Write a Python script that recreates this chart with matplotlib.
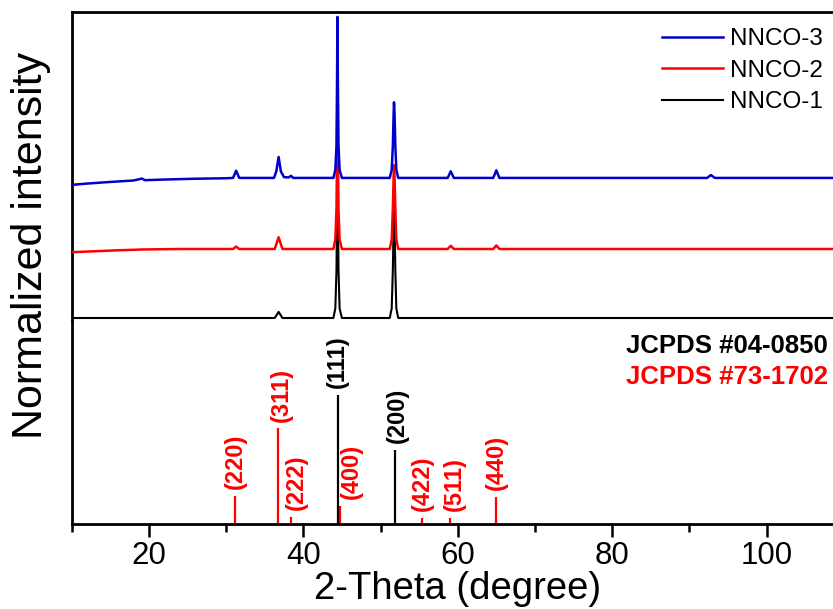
import matplotlib
matplotlib.use("Agg")
import matplotlib.pyplot as plt
from matplotlib.ticker import MultipleLocator

plt.rcParams['font.family'] = ['Liberation Sans', 'DejaVu Sans']

# XRD traces, normalised to the strongest peak
tt_nnco3 = [10, 12, 15, 18, 19.1, 19.5, 22, 26, 30, 30.9, 31.3, 31.7, 36.2, 36.5, 36.8, 37.1, 37.5,
            38.1, 38.4, 38.7, 43.9, 44.15, 44.3, 44.37, 44.42, 44.48, 44.56, 44.7, 45.0,
            51.2, 51.45, 51.6, 51.7, 51.75, 51.82, 51.92, 52.05, 52.3, 58.7, 59.1, 59.5,
            64.6, 65.0, 65.4, 92.3, 92.8, 93.3, 110]
int_nnco3 = [-0.043, -0.035, -0.025, -0.016, -0.004, -0.014, -0.01, -0.005, -0.002, 0.0, 0.045, 0.0, 0.0, 0.04,
             0.13, 0.04, 0.005, 0.003, 0.013, 0.0, 0.0, 0.05, 0.2, 0.6, 1.0, 0.6, 0.2, 0.05, 0.0,
             0.0, 0.05, 0.2, 0.4, 0.47, 0.4, 0.2, 0.05, 0.0, 0.0, 0.041, 0.0,
             0.0, 0.047, 0.0, 0.0, 0.018, 0.0, 0.0]

tt_nnco2 = [10, 13, 16, 19.2, 24, 30.9, 31.3, 31.7, 36.3, 36.8, 37.3, 43.9, 44.15, 44.3, 44.37,
            44.42, 44.48, 44.56, 44.7, 45.0, 51.2, 51.45, 51.6, 51.7, 51.75, 51.82, 51.92, 52.05,
            52.3, 58.7, 59.1, 59.5, 64.6, 65.0, 65.4, 110]
int_nnco2 = [-0.02, -0.014, -0.008, -0.003, 0.0, 0.0, 0.015, 0.0, 0.0, 0.073, 0.0, 0.0, 0.06, 0.25, 0.6,
             1.0, 0.6, 0.25, 0.06, 0.0, 0.0, 0.06, 0.25, 0.45, 0.52, 0.45, 0.25, 0.06,
             0.0, 0.0, 0.02, 0.0, 0.0, 0.022, 0.0, 0.0]

tt_nnco1 = [10, 36.3, 36.8, 37.3, 43.9, 44.15, 44.3, 44.37, 44.42, 44.48, 44.56, 44.7, 45.0,
            51.2, 51.45, 51.6, 51.7, 51.75, 51.82, 51.92, 52.05, 52.3, 110]
int_nnco1 = [0.0, 0.0, 0.038, 0.0, 0.0, 0.06, 0.3, 0.7, 1.0, 0.7, 0.3, 0.06, 0.0,
             0.0, 0.06, 0.3, 0.6, 0.7, 0.6, 0.3, 0.06, 0.0, 0.0]

offsets = [0.87, 0.4286, 0.0]   # NNCO-3, NNCO-2, NNCO-1

# reference sticks
ni_pos = [44.45, 51.85]
ni_int = [100, 57]
ni_hkl = ['(111)', '(200)']
spinel_pos = [31.2, 36.75, 38.4, 44.75, 55.4, 59.05, 64.95]
spinel_int = [22, 74, 5.5, 14, 4.7, 4.7, 21]
spinel_hkl = ['(220)', '(311)', '(222)', '(400)', '(422)', '(511)', '(440)']

W, H = 833, 609
fig = plt.figure(figsize=(W / 100, H / 100), dpi=100)
left = 71.7 / W
width = 772 / W
ax_bot = fig.add_axes([left, 1 - 524 / H, width, 204 / H])
ax_top = fig.add_axes([left, 1 - 320 / H, width, 308 / H])

# top panel: patterns
ax_top.plot(tt_nnco1, [v + offsets[2] for v in int_nnco1], color='black', lw=1.5, label='NNCO-1', zorder=2)
ax_top.plot(tt_nnco2, [v + offsets[1] for v in int_nnco2], color='#ff0000', lw=1.8, label='NNCO-2', zorder=3)
ax_top.plot(tt_nnco3, [v + offsets[0] for v in int_nnco3], color='#0000cc', lw=1.8, label='NNCO-3', zorder=4)
ax_top.set_xlim(10, 110)
ax_top.set_ylim(-0.0124, 1.9006)
ax_top.set_xticks([])
ax_top.set_yticks([])
ax_top.spines['bottom'].set_visible(False)
for s in ['left', 'top', 'right']:
    ax_top.spines[s].set_linewidth(2.0)

h, l = ax_top.get_legend_handles_labels()
fig.legend(h[::-1], l[::-1], loc='upper left', bbox_to_anchor=(662 / W, 1 - 28 / H),
           frameon=False, fontsize=17.5, handlelength=2.5, handletextpad=0.3,
           labelspacing=0.4, borderpad=0, borderaxespad=0)

# bottom panel: reference lines
ax_bot.vlines(ni_pos, 0, ni_int, color='black', lw=1.6)
ax_bot.vlines(spinel_pos, 0, spinel_int, color='#ff0000', lw=1.6)
ni_dx = [0, 2]
spinel_dx = [0, 2, 4, 8, 0, 3, 0]
for x, y, t, dx in zip(ni_pos, ni_int, ni_hkl, ni_dx):
    ax_bot.annotate(t, (x, y), xytext=(dx, 5), textcoords='offset points', rotation=90,
                    ha='center', va='bottom', fontsize=17, fontweight='bold', color='black')
for x, y, t, dx in zip(spinel_pos, spinel_int, spinel_hkl, spinel_dx):
    ax_bot.annotate(t, (x, y), xytext=(dx, 5), textcoords='offset points', rotation=90,
                    ha='center', va='bottom', fontsize=17, fontweight='bold', color='#ff0000')

ax_bot.set_xlim(10, 110)
ax_bot.set_ylim(0, 158)
ax_bot.set_yticks([])
ax_bot.spines['top'].set_visible(False)
for s in ['left', 'bottom', 'right']:
    ax_bot.spines[s].set_linewidth(2.0)
ax_bot.xaxis.set_major_locator(MultipleLocator(20))
ax_bot.xaxis.set_minor_locator(MultipleLocator(10))
ax_bot.tick_params(axis='x', which='major', direction='out', length=9, width=1.8, labelsize=22.5, pad=3)
ax_bot.tick_params(axis='x', which='minor', direction='out', length=5.5, width=1.8)
ax_bot.set_xlabel('2-Theta (degree)', fontsize=27.5, labelpad=0)

fig.text(31 / W, 1 - 245 / H, 'Normalized intensity', rotation=90, ha='center', va='center', fontsize=31)
fig.text(828 / W, 1 - 346 / H, 'JCPDS #04-0850', ha='right', va='center', fontsize=18.5,
         fontweight='bold', color='black')
fig.text(828 / W, 1 - 377 / H, 'JCPDS #73-1702', ha='right', va='center', fontsize=18.5,
         fontweight='bold', color='#ff0000')

fig.savefig('out.png', dpi=100)
